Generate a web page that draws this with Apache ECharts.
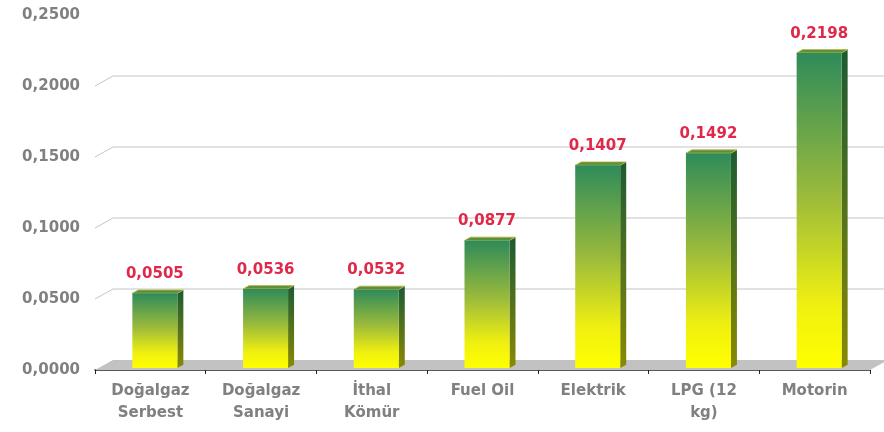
<!DOCTYPE html>
<html>
<head>
<meta charset="utf-8">
<script src="https://cdn.jsdelivr.net/npm/echarts@6/dist/echarts.min.js"></script>
<style>
  html, body { margin: 0; padding: 0; background: #fff; }
  #chart { width: 884px; height: 432px; }
</style>
</head>
<body>
<div id="chart"></div>
<script>
// birim fiyatlar
const categories = ["Doğalgaz\nSerbest", "Doğalgaz\nSanayi", "İthal\nKömür", "Fuel Oil", "Elektrik", "LPG (12\nkg)", "Motorin"];
const prices = [0.0505, 0.0536, 0.0532, 0.0877, 0.1407, 0.1492, 0.2198];
const gridValues = [0.05, 0.1, 0.15, 0.2];

const DX = 18, DY = 10; // 3d derinlik
const fontFamily = "DejaVu Sans";

function fmt(v) {
  return v.toFixed(4).replace(".", ",");
}

let myChart = echarts.init(document.getElementById("chart"));

let option = {
  animation: false,
  grid: { left: 95, right: 14, top: 15, bottom: 62 },
  xAxis: {
    type: "category",
    data: categories,
    axisLine: { lineStyle: { color: "#222", width: 1.5 } },
    axisTick: { show: true, length: 4, lineStyle: { color: "#222" } },
    axisLabel: {
      color: "#808080",
      fontFamily: fontFamily,
      fontWeight: "bold",
      fontSize: 15,
      lineHeight: 22,
      margin: 10,
    },
  },
  yAxis: {
    type: "value",
    min: 0,
    max: 0.25,
    interval: 0.05,
    axisLine: { show: false },
    axisTick: { show: false },
    splitLine: { show: false },
    axisLabel: {
      color: "#808080",
      fontFamily: fontFamily,
      fontWeight: "bold",
      fontSize: 15,
      margin: 15,
      formatter: fmt,
    },
  },
  series: [
    {
      // zemin
      type: "custom",
      data: [[0, 0]],
      z: 1,
      renderItem: function (params, api) {
        const cs = params.coordSys;
        const y0 = api.coord([0, 0])[1];
        const x0 = cs.x, x1 = cs.x + cs.width;
        return {
          type: "polygon",
          shape: { points: [[x0, y0], [x0 + DX, y0 - DY], [x1 + DX, y0 - DY], [x1, y0]] },
          style: { fill: "#c2c2c2" },
        };
      },
    },
    {
      // arka duvar çizgileri
      type: "custom",
      data: gridValues.map((v) => [0, v]),
      z: 1,
      renderItem: function (params, api) {
        const cs = params.coordSys;
        const y = api.coord([0, api.value(1)])[1];
        const x0 = cs.x;
        return {
          type: "polyline",
          shape: { points: [[x0, y], [x0 + DX, y - DY], [884, y - DY]] },
          style: { stroke: "#c4c4c4", lineWidth: 1, fill: null },
        };
      },
    },
    {
      type: "custom",
      data: prices.map((v, i) => [i, v]),
      z: 3,
      renderItem: function (params, api) {
        const i = api.value(0);
        const v = api.value(1);
        const top = api.coord([i, v]);
        const base = api.coord([i, 0]);
        const cx = top[0];
        const l = cx - 18, r = cx + 27, d = 6, h = 3.3;
        const yt = top[1] - 5, yb = base[1] - 2;
        return {
          type: "group",
          children: [
            {
              type: "polygon",
              shape: { points: [[r, yt], [r + d, yt - h], [r + d, yb - h], [r, yb]] },
              style: {
                fill: new echarts.graphic.LinearGradient(0, 0, 0, 1, [
                  { offset: 0, color: "#1c5a34" },
                  { offset: 1, color: "#8a8a00" },
                ]),
              },
            },
            {
              type: "polygon",
              shape: { points: [[l, yt], [l + d, yt - h], [r + d, yt - h], [r, yt]] },
              style: { fill: "#5f8f3a", stroke: "#b8b840", lineWidth: 0.8 },
            },
            {
              type: "rect",
              shape: { x: l, y: yt, width: r - l, height: yb - yt },
              style: {
                fill: new echarts.graphic.LinearGradient(0, 0, 0, 1, [
                  { offset: 0, color: "#2e8b5a" },
                  { offset: 0.45, color: "#9aba3c" },
                  { offset: 0.8, color: "#f0f010" },
                  { offset: 1, color: "#ffff00" },
                ]),
              },
            },
            {
              type: "text",
              style: {
                text: fmt(v),
                x: (l + r) / 2,
                y: yt - 19,
                align: "center",
                verticalAlign: "middle",
                fill: "#e0284a",
                fontFamily: fontFamily,
                fontWeight: "bold",
                fontSize: 15,
              },
            },
          ],
        };
      },
    },
  ],
};

myChart.setOption(option);
</script>
</body>
</html>
